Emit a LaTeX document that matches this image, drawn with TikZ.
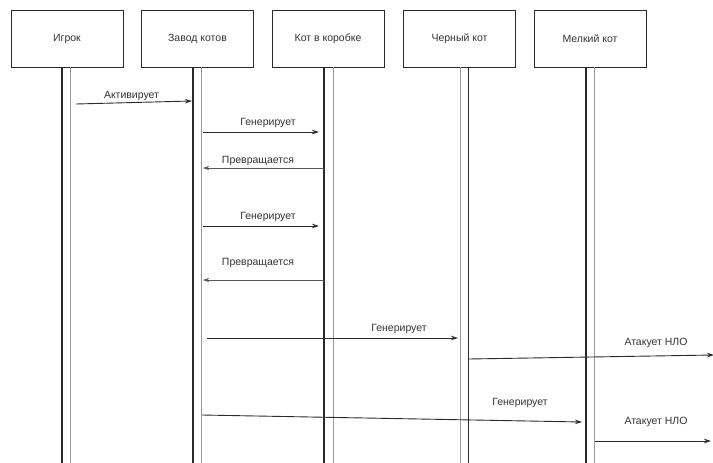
\documentclass[tikz,border=0pt]{standalone}
\usepackage{fontspec}
\setmainfont{Liberation Sans}
\usetikzlibrary{arrows.meta}
\definecolor{txt}{HTML}{333333}
\definecolor{ln}{HTML}{2a2a2a}
\definecolor{lg}{HTML}{999999}
\begin{document}
\begin{tikzpicture}[x=1pt,y=-1pt,
  actor/.style={draw=ln,line width=1pt,minimum width=112pt,minimum height=57pt,inner sep=0pt,font=\fontsize{10.5}{12}\selectfont,text=txt},
  lifedark/.style={draw=ln,line width=1.1pt},
  lifegray/.style={draw=lg,line width=1pt},
  msg/.style={draw=ln,line width=0.9pt,-{Stealth[length=7pt,width=4.5pt]}},
  msgback/.style={draw=ln!80,line width=0.7pt,-{Stealth[length=6pt,width=4pt]}},
  lbl/.style={font=\fontsize{10.5}{12}\selectfont,text=txt,inner sep=0pt}]
\useasboundingbox[fill=white] (0,0) rectangle (713,463);
% participants
\node[actor] (p1) at (67,38.5) {Игрок};
\node[actor] (p2) at (197.5,38.5) {Завод котов};
\node[actor] (p3) at (328,38.5) {Кот в коробке};
\node[actor] (p4) at (459.5,38.5) {Черный кот};
\node[actor] (p5) at (590,38.5) {Мелкий кот};
% lifelines
\draw[lifedark] (62,67) -- (62,463);
\draw[lifegray] (70,67) -- (70,463);
\draw[lifedark] (193,67) -- (193,463);
\draw[lifegray] (201,67) -- (201,463);
\draw[lifedark] (324,67) -- (324,463);
\draw[lifegray] (333,67) -- (333,463);
\draw[lifegray] (460,67) -- (460,463);
\draw[lifedark] (468.5,67) -- (468.5,463);
\draw[lifedark] (586,67) -- (586,463);
\draw[lifegray] (594,67) -- (594,463);
% message endpoints
\coordinate (a1) at (76,104);  \coordinate (b1) at (192,101);
\coordinate (a2) at (203,132); \coordinate (b2) at (319,132);
\coordinate (a3) at (324,168); \coordinate (b3) at (203,168);
\coordinate (a4) at (203,226); \coordinate (b4) at (319,226);
\coordinate (a5) at (324,280); \coordinate (b5) at (203,280);
\coordinate (a6) at (207,338); \coordinate (b6) at (458,338);
\coordinate (a7) at (469,359); \coordinate (b7) at (714,355);
\coordinate (a8) at (202,415); \coordinate (b8) at (582,422);
\coordinate (a9) at (595,441); \coordinate (b9) at (711,441);
% messages
\draw[msg] (a1) -- (b1);
\draw[msg] (a2) -- (b2);
\draw[msgback] (a3) -- (b3);
\draw[msg] (a4) -- (b4);
\draw[msgback] (a5) -- (b5);
\draw[msg] (a6) -- (b6);
\draw[msg] (a7) -- (b7);
\draw[msg] (a8) -- (b8);
\draw[msg] (a9) -- (b9);
% labels
\node[lbl] (l1) at (131.5,96) {Активирует};
\node[lbl] (l2) at (268,123) {Генерирует};
\node[lbl] (l3) at (258,161) {Превращается};
\node[lbl] (l4) at (268,217) {Генерирует};
\node[lbl] (l5) at (258,263) {Превращается};
\node[lbl] (l6) at (399,329) {Генерирует};
\node[lbl] (l7) at (656,343) {Атакует НЛО};
\node[lbl] (l8) at (520,403) {Генерирует};
\node[lbl] (l9) at (656,422) {Атакует НЛО};
\end{tikzpicture}
\end{document}
